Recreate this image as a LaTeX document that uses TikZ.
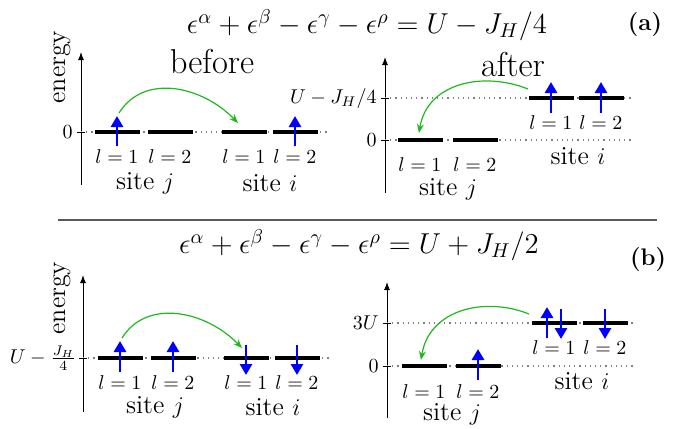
\documentclass[tikz,border=0pt]{standalone}
\usepackage{amsmath}
\usepackage{tikz}
\usetikzlibrary{arrows.meta,positioning}
\definecolor{spinblue}{RGB}{0,0,255}
\definecolor{hopgreen}{RGB}{30,185,30}
\definecolor{rulegray}{RGB}{90,90,90}

\begin{document}
\begin{tikzpicture}[
    x=0.5pt, y=-0.5pt,
    every node/.style={font=\normalsize},
    level/.style={fill=black, inner sep=0pt, minimum width=22.5pt, minimum height=1.7pt},
    spin/.style={-{Triangle[width=6pt,length=5.5pt]}, line width=1.4pt, spinblue},
    hop/.style={-{Stealth[length=4.5pt,width=3.5pt]}, hopgreen, line width=0.6pt},
    axis/.style={-{Latex[length=4pt,width=3pt]}, line width=0.5pt},
    guide/.style={dotted, line width=0.6pt, gray},
    lab/.style={inner sep=0pt},
    site/.style={font=\fontsize{13}{15}\selectfont, inner sep=0pt},
    big/.style={font=\LARGE, inner sep=0pt},
    eq/.style={font=\fontsize{13.8}{16}\selectfont, inner sep=0pt},
    tag/.style={font=\large\bfseries, inner sep=0pt}
  ]
    \useasboundingbox (0,0) rectangle (689,428);

    % (a) headline
    \node[eq] (eqA) at (367,25) {$\epsilon^\alpha+\epsilon^\beta-\epsilon^\gamma-\epsilon^\rho=U-J_H/4$};
    \node[tag] (tagA) at (645,25) {(a)};

    % (a) before
    \coordinate (axA0) at (81,185);
    \coordinate (axA1) at (81,52);
    \draw[axis] (axA0) -- (axA1);
    \node[site, rotate=90] (enA) at (62,67) {energy};
    \node[big] (before) at (212,62) {before};
    \coordinate (zA) at (81,132);
    \coordinate (zAe) at (328,132);
    \draw[guide] (zA) -- (zAe);
    \draw ([xshift=-2pt]zA) -- ([xshift=2pt]zA);
    \node[lab, left=4pt of zA] {$0$};

    \node[level] (aj1) at (117,132) {};
    \node[level] (aj2) at (170,132) {};
    \node[level] (ai1) at (244,132) {};
    \node[level] (ai2) at (295,132) {};
    \node[lab, below=7.5pt of aj1] {$l=1$};
    \node[lab, below=7.5pt of aj2] {$l=2$};
    \node[lab, below=7.5pt of ai1] {$l=1$};
    \node[lab, below=7.5pt of ai2] {$l=2$};
    \node[site] (sjA) at (145,183) {site $j$};
    \node[site] (siA) at (270,183) {site $i$};
    \draw[spin] ([yshift=-7pt]aj1.center) -- ([yshift=8pt]aj1.center);
    \draw[spin] ([yshift=-7pt]ai2.center) -- ([yshift=8pt]ai2.center);

    \coordinate (hA0) at (119,113);
    \coordinate (hA1) at (238,123);
    \draw[hop] (hA0) .. controls +(25,-40) and +(-36,-37) .. (hA1);

    % (a) after
    \coordinate (axB0) at (385,193);
    \coordinate (axB1) at (385,57);
    \draw[axis] (axB0) -- (axB1);
    \node[big] (after) at (513,65) {after};
    \coordinate (uB) at (385,98);
    \coordinate (uBe) at (632,98);
    \coordinate (zB) at (385,140);
    \coordinate (zBe) at (632,140);
    \draw[guide] (uB) -- (uBe);
    \draw[guide] (zB) -- (zBe);
    \draw ([xshift=-2pt]uB) -- ([xshift=2pt]uB);
    \draw ([xshift=-2pt]zB) -- ([xshift=2pt]zB);
    \node[lab, left=4pt of uB] {$U-J_H/4$};
    \node[lab, left=4pt of zB] {$0$};

    \node[level] (bj1) at (420,140) {};
    \node[level] (bj2) at (475,140) {};
    \node[level] (bi1) at (551,98) {};
    \node[level] (bi2) at (601,98) {};
    \node[lab, below=7.5pt of bj1] {$l=1$};
    \node[lab, below=7.5pt of bj2] {$l=2$};
    \node[lab, below=7.5pt of bi1] {$l=1$};
    \node[lab, below=7.5pt of bi2] {$l=2$};
    \node[site] (sjB) at (448,189) {site $j$};
    \node[site] (siB) at (578,156) {site $i$};
    \draw[spin] ([yshift=-7.5pt]bi1.center) -- ([yshift=8pt]bi1.center);
    \draw[spin] ([yshift=-7.5pt]bi2.center) -- ([yshift=8pt]bi2.center);

    \coordinate (hB0) at (528,89);
    \coordinate (hB1) at (419,133);
    \draw[hop] (hB0) .. controls +(-45,-18) and +(8,-50) .. (hB1);

    % separator
    \coordinate (sep0) at (58,220);
    \coordinate (sep1) at (657,220);
    \draw[rulegray, line width=0.8pt] (sep0) -- (sep1);

    % (b) headline
    \node[eq] (eqB) at (359,245) {$\epsilon^\alpha+\epsilon^\beta-\epsilon^\gamma-\epsilon^\rho=U+J_H/2$};
    \node[tag] (tagB) at (648,260) {(b)};

    % (b) before
    \coordinate (axC0) at (83,412);
    \coordinate (axC1) at (83,275);
    \draw[axis] (axC0) -- (axC1);
    \node[site, rotate=90] (enC) at (62,298) {energy};
    \coordinate (zC) at (83,358);
    \coordinate (zCe) at (332,358);
    \draw[guide] (zC) -- (zCe);
    \draw ([xshift=-2pt]zC) -- ([xshift=2pt]zC);
    \node[lab, left=3pt of zC] {$U-\frac{J_H}{4}$};

    \node[level] (cj1) at (120,358) {};
    \node[level] (cj2) at (173,358) {};
    \node[level] (ci1) at (246,358) {};
    \node[level] (ci2) at (297,358) {};
    \node[lab, below=7.5pt of cj1] {$l=1$};
    \node[lab, below=7.5pt of cj2] {$l=2$};
    \node[lab, below=7.5pt of ci1] {$l=1$};
    \node[lab, below=7.5pt of ci2] {$l=2$};
    \node[site] (sjC) at (155,407) {site $j$};
    \node[site] (siC) at (273,407) {site $i$};
    \draw[spin] ([yshift=-7pt]cj1.center) -- ([yshift=8.5pt]cj1.center);
    \draw[spin] ([yshift=-7pt]cj2.center) -- ([yshift=8.5pt]cj2.center);
    \draw[spin] ([yshift=6.5pt]ci1.center) -- ([yshift=-8.5pt]ci1.center);
    \draw[spin] ([yshift=6.5pt]ci2.center) -- ([yshift=-8.5pt]ci2.center);

    \coordinate (hC0) at (122,338);
    \coordinate (hC1) at (242,348);
    \draw[hop] (hC0) .. controls +(25,-40) and +(-36,-37) .. (hC1);

    % (b) after
    \coordinate (axD0) at (387,418);
    \coordinate (axD1) at (387,282);
    \draw[axis] (axD0) -- (axD1);
    \coordinate (uD) at (387,323);
    \coordinate (uDe) at (635,323);
    \coordinate (zD) at (387,366);
    \coordinate (zDe) at (635,366);
    \draw[guide] (uD) -- (uDe);
    \draw[guide] (zD) -- (zDe);
    \draw ([xshift=-2pt]uD) -- ([xshift=2pt]uD);
    \draw ([xshift=-2pt]zD) -- ([xshift=2pt]zD);
    \node[lab, left=4pt of uD] {$3U$};
    \node[lab, left=4pt of zD] {$0$};

    \node[level] (dj1) at (424,366) {};
    \node[level] (dj2) at (478,366) {};
    \node[level] (di1) at (554,323) {};
    \node[level] (di2) at (605,323) {};
    \node[lab, below=8pt of dj1] {$l=1$};
    \node[lab, below=8pt of dj2] {$l=2$};
    \node[lab, below=7.5pt of di1] {$l=1$};
    \node[lab, below=7.5pt of di2] {$l=2$};
    \node[site] (sjD) at (452,414) {site $j$};
    \node[site] (siD) at (582,381) {site $i$};
    \draw[spin] ([yshift=-7pt]dj2.center) -- ([yshift=8.5pt]dj2.center);
    \draw[spin] ([xshift=-3.5pt,yshift=-7.5pt]di1.center) -- ([xshift=-3.5pt,yshift=8pt]di1.center);
    \draw[spin] ([xshift=3.5pt,yshift=7pt]di1.center) -- ([xshift=3.5pt,yshift=-8pt]di1.center);
    \draw[spin] ([yshift=7pt]di2.center) -- ([yshift=-8pt]di2.center);

    \coordinate (hD0) at (529,314);
    \coordinate (hD1) at (421,360);
    \draw[hop] (hD0) .. controls +(-45,-18) and +(8,-50) .. (hD1);
\end{tikzpicture}
\end{document}
